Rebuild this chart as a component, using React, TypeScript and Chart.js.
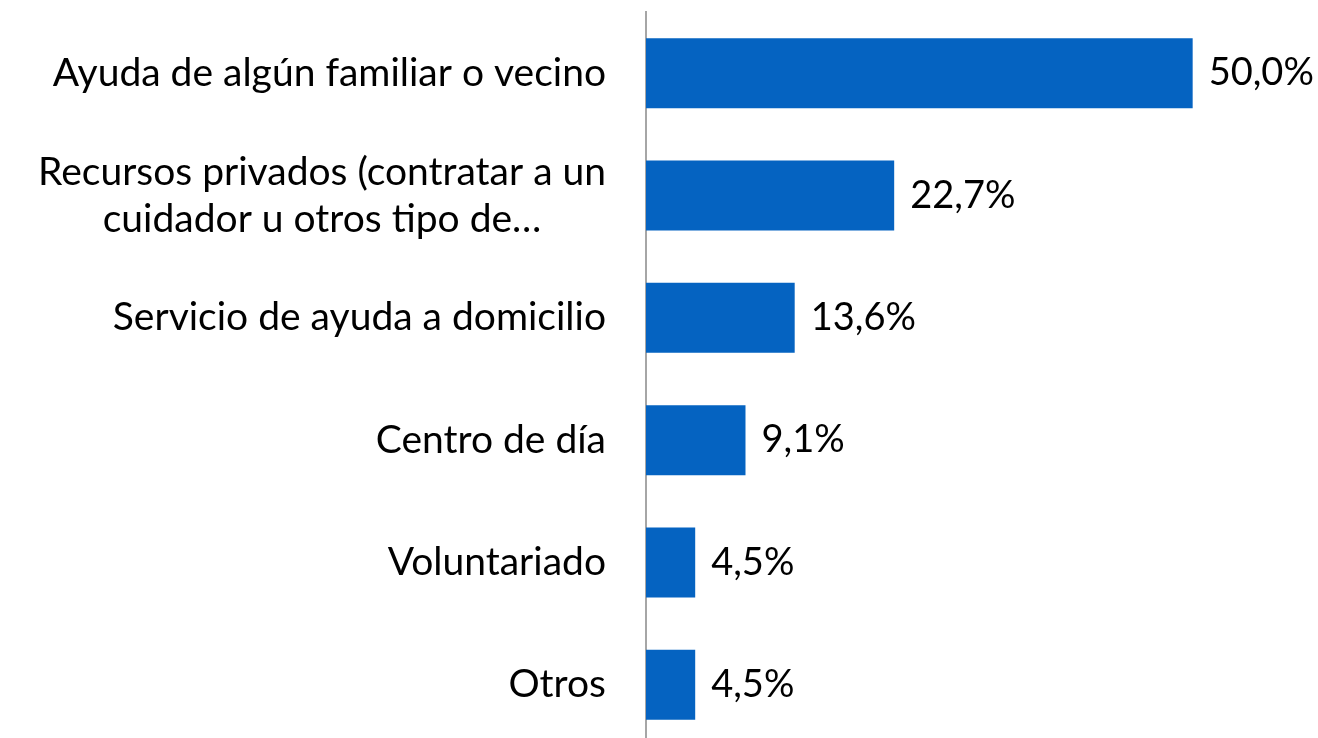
import React, { useEffect, useRef } from 'react';
import { Chart, registerables } from 'chart.js';

Chart.register(...registerables);

const categories: string[][] = [
  ['Ayuda de algún familiar o vecino'],
  ['Recursos privados (contratar a un', 'cuidador u otros tipo de…'],
  ['Servicio de ayuda a domicilio'],
  ['Centro de día'],
  ['Voluntariado'],
  ['Otros'],
];
const values: number[] = [50.0, 22.7, 13.6, 9.1, 4.5, 4.5];
const xMax = 60;

const FONT = '39px Lato, "Open Sans", sans-serif';
const VALUE_FONT = '38px Lato, "Open Sans", sans-serif';
const BAR_COLOR = '#0563C1';

const fmt = (v: number) => v.toFixed(1).replace('.', ',') + '%';

const labelPlugin = {
  id: 'customLabels',
  afterDraw(chart: any) {
    const ctx = chart.ctx;
    const yScale = chart.scales.y;
    const meta = chart.getDatasetMeta(0);
    const rightEdge = chart.chartArea.left - 40;
    const lineHeight = 47;
    ctx.save();
    ctx.font = FONT;
    ctx.fillStyle = '#000';
    ctx.textBaseline = 'middle';
    categories.forEach((lines, i) => {
      const y = yScale.getPixelForTick(i);
      const widths = lines.map((l) => ctx.measureText(l).width);
      const maxW = Math.max(...widths);
      const cx = rightEdge - maxW / 2;
      const startY = y - ((lines.length - 1) * lineHeight) / 2;
      ctx.textAlign = 'center';
      lines.forEach((l, j) => {
        ctx.fillText(l, cx, startY + j * lineHeight);
      });
    });
    ctx.font = VALUE_FONT;
    ctx.textAlign = 'left';
    meta.data.forEach((bar: any, i: number) => {
      ctx.fillText(fmt(values[i]), bar.x + 16, bar.y);
    });
    ctx.restore();
  },
};

export default function App() {
  const ref = useRef<HTMLCanvasElement | null>(null);
  useEffect(() => {
    if (!ref.current) return;
    const chart = new Chart(ref.current, {
      type: 'bar',
      data: {
        labels: categories.map((c) => c.join(' ')),
        datasets: [
          {
            data: values,
            backgroundColor: BAR_COLOR,
            borderWidth: 0,
            categoryPercentage: 1,
            barPercentage: 0.572,
          },
        ],
      },
      options: {
        indexAxis: 'y',
        animation: false,
        responsive: true,
        maintainAspectRatio: false,
        layout: { padding: { top: 12, right: 16, bottom: 0, left: 0 } },
        plugins: {
          legend: { display: false },
          tooltip: { enabled: false },
        },
        scales: {
          x: {
            min: 0,
            max: xMax,
            display: false,
          },
          y: {
            ticks: { display: false },
            grid: { display: false, drawTicks: false },
            border: { display: true, color: '#a6a6a6', width: 2 },
            afterFit: (scale: any) => {
              scale.width = 646;
            },
          },
        },
      },
      plugins: [labelPlugin],
    });
    return () => chart.destroy();
  }, []);
  return (
    <div style={{ position: 'absolute', left: 0, top: 0, width: 1318, height: 746 }}>
      <canvas ref={ref} />
    </div>
  );
}
